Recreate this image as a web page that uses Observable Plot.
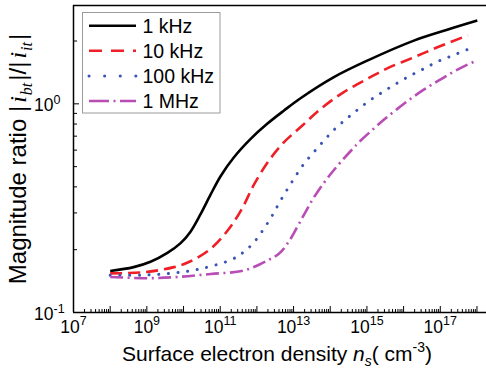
<!DOCTYPE html>
<html><head><meta charset="utf-8">
<script src="https://cdn.jsdelivr.net/npm/d3@7"></script>
<script src="https://cdn.jsdelivr.net/npm/@observablehq/plot@0.6"></script>
<style>
body{margin:0;background:#fff}
#chart{position:relative;width:486px;height:372px}
svg text{font-family:"Liberation Sans",Arial,sans-serif}
</style>
</head><body><div id="chart"></div>
<script>
// Series names (legend) and values: log10(ns) and magnitude ratio
const seriesNames = ["1 kHz", "10 kHz", "100 kHz", "1 MHz"];

const logNs_1kHz = [8.0, 8.64, 9.10, 9.56, 9.92, 10.19, 10.46, 10.74, 11.01, 11.37, 11.83, 12.28, 12.74, 13.19, 14.10, 15.01, 16.28, 17.19, 18.01];
const ratio_1kHz = [0.158, 0.165, 0.175, 0.193, 0.215, 0.244, 0.295, 0.368, 0.450, 0.553, 0.679, 0.802, 0.929, 1.064, 1.343, 1.611, 2.009, 2.265, 2.506];

const logNs_10kHz = [8.0, 8.92, 9.74, 10.19, 10.74, 11.24, 11.60, 11.92, 12.33, 12.74, 13.24, 13.74, 14.37, 15.01, 15.58, 16.28, 16.92, 17.75];
const ratio_10kHz = [0.154, 0.156, 0.165, 0.176, 0.202, 0.252, 0.316, 0.410, 0.535, 0.655, 0.787, 0.946, 1.138, 1.318, 1.486, 1.671, 1.866, 2.128];

const logNs_100kHz = [8.0, 8.83, 9.65, 10.46, 11.30, 11.64, 11.92, 12.19, 12.42, 12.62, 12.84, 13.05, 13.28, 13.55, 13.83, 14.10, 14.42, 14.74, 15.10, 15.46, 15.83, 16.19, 16.55, 16.93, 17.33, 17.75];
const ratio_100kHz = [0.151, 0.151, 0.154, 0.162, 0.179, 0.195, 0.217, 0.252, 0.292, 0.338, 0.392, 0.449, 0.515, 0.586, 0.667, 0.750, 0.841, 0.935, 1.045, 1.148, 1.259, 1.368, 1.472, 1.596, 1.702, 1.824];

const logNs_1MHz = [8.0, 9.01, 9.83, 10.74, 11.65, 12.30, 12.60, 12.85, 13.10, 13.32, 13.55, 13.83, 14.05, 14.28, 14.60, 14.83, 15.19, 15.46, 15.83, 16.19, 16.55, 16.96, 17.37, 17.74, 18.01];
const ratio_1MHz = [0.148, 0.146, 0.148, 0.153, 0.159, 0.178, 0.191, 0.216, 0.257, 0.302, 0.355, 0.419, 0.470, 0.525, 0.605, 0.667, 0.762, 0.838, 0.946, 1.057, 1.169, 1.294, 1.426, 1.542, 1.614];

const xTickExponents = [7, 9, 11, 13, 15, 17];
const yTickExponents = [-1, 0];

// styles
const colors = ["#000000", "#ee1f26", "#3b54b3", "#b94db5"];
const dashes = [null, "12,6", "0.1,9.6", "13,4.5,2,4.5"];
const widths = [2.6, 2.6, 3, 2.6];

const seriesLog = [logNs_1kHz, logNs_10kHz, logNs_100kHz, logNs_1MHz];
const seriesRatio = [ratio_1kHz, ratio_10kHz, ratio_100kHz, ratio_1MHz];
const rows = seriesNames.map((name, s) => seriesLog[s].map((l, i) => ({series: name, ns: Math.pow(10, l), ratio: seriesRatio[s][i]})));

const xMajor = d3.range(7, 19).map(e => Math.pow(10, e));
const xMinor = d3.range(7, 18).flatMap(e => d3.range(2, 10).map(k => k * Math.pow(10, e)));
const yMajor = yTickExponents.map(e => Math.pow(10, e));
const yMinor = [0.2, 0.3, 0.4, 0.5, 0.6, 0.7, 0.8, 0.9, 2];
const xDomain = [1e7, Math.pow(10, 18.26)];
const yDomain = [0.1, 2.96];

const svg = Plot.plot({
  width: 486, height: 372,
  marginLeft: 73, marginRight: 0, marginTop: 5, marginBottom: 60,
  x: {type: "log", domain: xDomain},
  y: {type: "log", domain: yDomain},
  style: {fontFamily: "Liberation Sans, Arial, sans-serif", fontSize: "17px", color: "#000", background: "#fff"},
  marks: [
    ...rows.map((r, s) => Plot.line(r, {x: "ns", y: "ratio", stroke: colors[s], strokeWidth: widths[s],
      strokeDasharray: dashes[s], strokeLinecap: s === 2 ? "round" : "butt", curve: "catmull-rom"})),
    Plot.ruleX(xMajor, {x: d => d, y1: yDomain[0], y2: yDomain[0], insetTop: -6, stroke: "#000", strokeWidth: 1}),
    Plot.ruleX(xMinor, {x: d => d, y1: yDomain[0], y2: yDomain[0], insetTop: -3, stroke: "#000", strokeWidth: 1}),
    Plot.ruleY(yMajor, {y: d => d, x1: xDomain[0], x2: xDomain[0], insetRight: -6, stroke: "#000", strokeWidth: 1}),
    Plot.ruleY(yMinor, {y: d => d, x1: xDomain[0], x2: xDomain[0], insetRight: -4, stroke: "#000", strokeWidth: 1}),
    Plot.axisX(xTickExponents.map(e => Math.pow(10, e)), {tickSize: 0, tickPadding: 8, label: null,
      tickFormat: d => String(Math.round(Math.log10(d))), fontSize: 17.5}),
    Plot.axisY(yMajor, {tickSize: 0, tickPadding: 0, label: null, dx: -20, dy: 2,
      tickFormat: d => String(Math.round(Math.log10(d))), fontSize: 17.5}),
    Plot.ruleY([yDomain[0], yDomain[1]], {stroke: "#000", strokeWidth: 1.5}),
    Plot.ruleX([xDomain[0]], {stroke: "#000", strokeWidth: 1.5})
  ]
});

document.getElementById("chart").appendChild(svg);
const S = d3.select(svg);

// superscript tick labels
S.selectAll('g[aria-label="x-axis tick label"] text').each(function () {
  const e = this.textContent;
  const t = d3.select(this);
  t.text("10");
  t.append("tspan").attr("dy", "-0.6em").attr("font-size", "12.5px").text(e);
});
S.selectAll('g[aria-label="y-axis tick label"] text').each(function () {
  const e = this.textContent.replace("\u2212", "-");
  const t = d3.select(this);
  t.attr("text-anchor", "end").text("10");
  t.append("tspan").attr("x", t.attr("x") || 0).attr("text-anchor", "start").attr("dy", "-0.6em").attr("font-size", "12.5px").text(e);
});

// axis titles
const xl = S.append("text").attr("x", 277).attr("y", 361).attr("text-anchor", "middle").attr("font-size", 21).attr("fill", "#000");
xl.append("tspan").text("Surface electron density ");
xl.append("tspan").attr("font-style", "italic").text("n");
xl.append("tspan").attr("font-size", 14).attr("font-style", "italic").attr("dy", 5).text("s");
xl.append("tspan").attr("dy", -5).text("( cm");
xl.append("tspan").attr("font-size", 14).attr("dy", -9).text("-3");
xl.append("tspan").attr("dy", 9).text(")");

const yl = S.append("text").attr("transform", "translate(26,159) rotate(-90)").attr("text-anchor", "middle").attr("font-size", 24).attr("fill", "#000");
const serif = "Liberation Serif, Times New Roman, serif";
yl.append("tspan").text("Magnitude ratio |");
yl.append("tspan").attr("dx", 3).attr("font-family", serif).attr("font-style", "italic").text("i");
yl.append("tspan").attr("dx", 1).attr("font-family", serif).attr("font-size", 16).attr("font-style", "italic").attr("dy", 6).text("bt");
yl.append("tspan").attr("dx", 2).attr("dy", -6).text("|/|");
yl.append("tspan").attr("dx", 3).attr("font-family", serif).attr("font-style", "italic").text("i");
yl.append("tspan").attr("dx", 1).attr("font-family", serif).attr("font-size", 16).attr("font-style", "italic").attr("dy", 6).text("it");
yl.append("tspan").attr("dx", 2).attr("dy", -6).text("|");

// legend
const lg = S.append("g");
lg.append("rect").attr("x", 82.5).attr("y", 12.5).attr("width", 137.5).attr("height", 100.5).attr("fill", "#fff").attr("stroke", "#9a9a9a").attr("stroke-width", 1);
seriesNames.forEach((name, s) => {
  const yy = 25.7 + s * 25.1;
  lg.append("line").attr("x1", 89).attr("x2", 136).attr("y1", yy).attr("y2", yy)
    .attr("stroke", colors[s]).attr("stroke-width", widths[s])
    .attr("stroke-dasharray", s === 0 ? null : s === 1 ? "13,9" : s === 2 ? "0.1,15.5" : "20,4.5,2,4.5")
    .attr("stroke-linecap", s === 2 ? "round" : "butt");
  lg.append("text").attr("x", 142.5).attr("y", yy + 7).attr("text-anchor", "start").attr("font-size", 19.5).attr("fill", "#000").text(name);
});
</script>
</body></html>
